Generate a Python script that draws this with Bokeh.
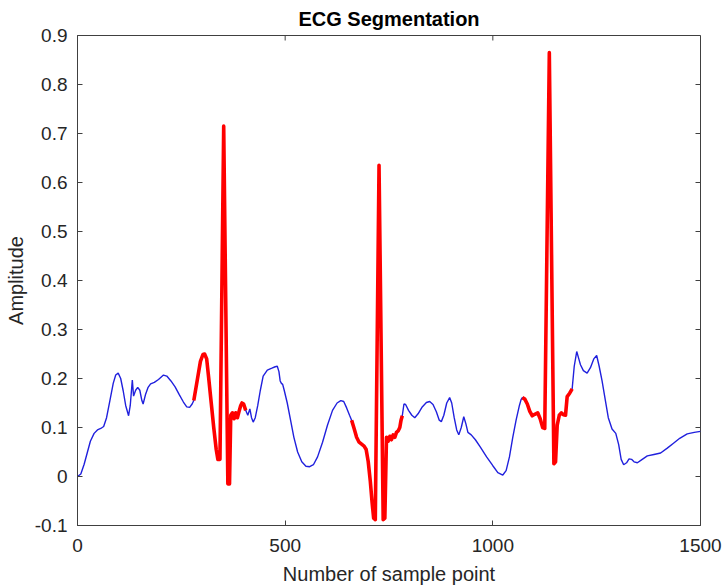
import math
from bokeh.plotting import figure
from bokeh.models import Range1d, FixedTicker
from bokeh.embed import file_html
from bokeh.resources import INLINE

# ---- data ----
sample_x = [0, 8, 16, 24, 31, 40, 48, 56, 63, 70, 78, 86, 92, 98, 104, 110, 116, 123, 127, 132, 135, 140, 145,
            150, 155, 158, 164, 170, 176, 185, 195, 207, 215, 225, 235, 245, 255, 263, 270, 276,
            280, 288, 296, 302, 306, 311, 316, 322, 328, 334, 338, 343, 352, 362, 366, 369, 373, 377, 381,
            385, 389, 393, 396, 400, 405,
            410, 415, 419, 423, 428, 434, 440, 447, 457, 468, 476, 481, 485, 488, 491, 494, 498, 505, 513,
            521, 530, 540, 550, 559, 568, 578, 590, 602, 614, 625, 634, 641, 648, 655,
            660, 666, 672, 678, 684, 690, 695, 700, 705, 709, 713, 717, 726, 736, 740, 744, 748, 752, 756,
            760, 764, 768, 772, 776, 779, 782,
            786, 790, 797, 805, 812, 820, 830, 840, 848, 856, 864, 871, 876, 882, 889, 896, 901, 907, 913,
            918, 924, 930, 935, 940, 948, 958, 970, 985, 1000, 1012, 1024, 1032, 1040, 1048, 1056, 1064, 1068,
            1071, 1077, 1083, 1089, 1095, 1101, 1108, 1114, 1120, 1125, 1136, 1147, 1151, 1155, 1160, 1165,
            1170, 1175, 1179, 1185, 1191,
            1196, 1202, 1207, 1211, 1218, 1227, 1235, 1243, 1250, 1256, 1263, 1270, 1278, 1287, 1296, 1303,
            1309, 1315, 1322, 1328, 1334, 1340, 1348, 1358, 1372, 1388, 1404, 1420, 1435, 1450, 1468, 1485, 1500]

amplitude = [0.0, 0.005, 0.025, 0.05, 0.072, 0.088, 0.095, 0.098, 0.102, 0.12, 0.155, 0.19, 0.207, 0.211, 0.2,
             0.175, 0.145, 0.124, 0.145, 0.197, 0.164, 0.176, 0.182,
             0.176, 0.155, 0.148, 0.168, 0.182, 0.189, 0.192, 0.198, 0.207, 0.205, 0.195, 0.183, 0.167, 0.152,
             0.142, 0.141, 0.148,
             0.155, 0.195, 0.235, 0.249, 0.25, 0.24, 0.2, 0.15, 0.1, 0.055, 0.035, 0.035, 0.715, -0.015, -0.015,
             0.125, 0.13, 0.118, 0.13,
             0.12, 0.133, 0.145, 0.15, 0.148, 0.135,
             0.125, 0.138, 0.12, 0.111, 0.12, 0.145, 0.175, 0.205, 0.217, 0.221, 0.224, 0.225, 0.214, 0.195,
             0.19, 0.188, 0.175, 0.15, 0.115,
             0.08, 0.05, 0.03, 0.021, 0.02, 0.024, 0.04, 0.07, 0.105, 0.135, 0.15, 0.155, 0.153, 0.14, 0.125,
             0.115, 0.098, 0.08, 0.07, 0.066, 0.062, 0.055, 0.03, -0.01, -0.05, -0.085, -0.088, 0.635, -0.088,
             -0.085, 0.08, 0.072, 0.082, 0.075,
             0.085, 0.08, 0.09, 0.093, 0.1, 0.115, 0.124,
             0.148, 0.147, 0.135, 0.125, 0.12, 0.128, 0.142, 0.151, 0.153, 0.147, 0.132, 0.115, 0.112, 0.125,
             0.15, 0.161, 0.15, 0.12, 0.095,
             0.085, 0.1, 0.122, 0.108, 0.09, 0.085, 0.075, 0.06, 0.04, 0.022, 0.008, 0.003, 0.012, 0.04, 0.08,
             0.115, 0.145, 0.157,
             0.161, 0.158, 0.148, 0.133, 0.124, 0.127, 0.13, 0.118, 0.1, 0.098, 0.865, 0.026, 0.03, 0.105,
             0.125, 0.13,
             0.126, 0.125, 0.163, 0.17, 0.179,
             0.225, 0.255, 0.24, 0.228, 0.216, 0.211, 0.222, 0.24, 0.247, 0.225, 0.195, 0.16, 0.12, 0.097,
             0.088, 0.065,
             0.035, 0.024, 0.028, 0.036, 0.035, 0.03, 0.028, 0.034, 0.042, 0.045, 0.048, 0.058, 0.068, 0.078,
             0.087, 0.09, 0.092]

# segmented (red) intervals, in sample points
segment_start = [280, 660, 1071]
segment_end = [405, 782, 1191]

x_ticks = [0, 500, 1000, 1500]
y_ticks = [-0.1, 0, 0.1, 0.2, 0.3, 0.4, 0.5, 0.6, 0.7, 0.8, 0.9]
y_tick_labels = ["-0.1", "0", "0.1", "0.2", "0.3", "0.4", "0.5", "0.6", "0.7", "0.8", "0.9"]

title_text = "ECG Segmentation"
x_label = "Number of sample point"
y_label = "Amplitude"

# ---- figure ----
FONT = "Liberation Sans"
AX_COL = "#404040"
TXT_COL = "#262626"
X_MIN, X_MAX = 0, 1500
Y_MIN, Y_MAX = -0.1, 0.9

p = figure(width=725, height=587, output_backend="svg", toolbar_location=None,
           x_range=Range1d(X_MIN, X_MAX), y_range=Range1d(Y_MIN, Y_MAX),
           min_border_left=77, min_border_right=25, min_border_top=33, min_border_bottom=62)

p.title.text = title_text
p.title.align = "center"
p.title.text_font = FONT
p.title.text_font_size = "20px"
p.title.text_font_style = "bold"
p.title.text_color = "#000000"
p.title.standoff = 11

p.xgrid.visible = False
p.ygrid.visible = False
p.outline_line_color = AX_COL
p.outline_line_width = 1
p.background_fill_color = "white"
p.border_fill_color = "white"

xt = FixedTicker(ticks=x_ticks, minor_ticks=[])
yt = FixedTicker(ticks=y_ticks, minor_ticks=[])

for ax in p.xaxis:
    ax.ticker = xt
    ax.axis_label = x_label
for ax in p.yaxis:
    ax.ticker = yt
    ax.axis_label = y_label
    ax.major_label_overrides = {v: s for v, s in zip(y_ticks, y_tick_labels)}

for ax in list(p.xaxis) + list(p.yaxis):
    ax.major_tick_in = 5
    ax.major_tick_out = 0
    ax.minor_tick_in = 0
    ax.minor_tick_out = 0
    ax.axis_line_color = AX_COL
    ax.major_tick_line_color = AX_COL
    ax.major_label_text_font = FONT
    ax.major_label_text_font_size = "19px"
    ax.major_label_text_color = TXT_COL
    ax.axis_label_text_font = FONT
    ax.axis_label_text_font_size = "20px"
    ax.axis_label_text_font_style = "normal"
    ax.axis_label_text_color = TXT_COL

p.xaxis.major_label_standoff = 13
p.xaxis.axis_label_standoff = 8
p.yaxis.major_label_standoff = 10
p.yaxis.axis_label_standoff = 5

# box ticks on the top and right edges (MATLAB "box on"), pointing inward
p.ray(x=x_ticks, y=[Y_MAX] * len(x_ticks), length=5, length_units="screen",
      angle=-math.pi / 2, line_color=AX_COL, line_width=1)
p.ray(x=[X_MAX] * len(y_ticks), y=y_ticks, length=5, length_units="screen",
      angle=math.pi, line_color=AX_COL, line_width=1)

# full signal in blue
p.line(sample_x, amplitude, line_color="#2020dd", line_width=1.4)

# segmented parts in red
xs, ys = [], []
for a, b in zip(segment_start, segment_end):
    xs.append([x for x in sample_x if a <= x <= b])
    ys.append([y for x, y in zip(sample_x, amplitude) if a <= x <= b])
p.multi_line(xs, ys, line_color="#ff0000", line_width=3.6, line_join="round")

open("out.html", "w").write(file_html(p, INLINE))
